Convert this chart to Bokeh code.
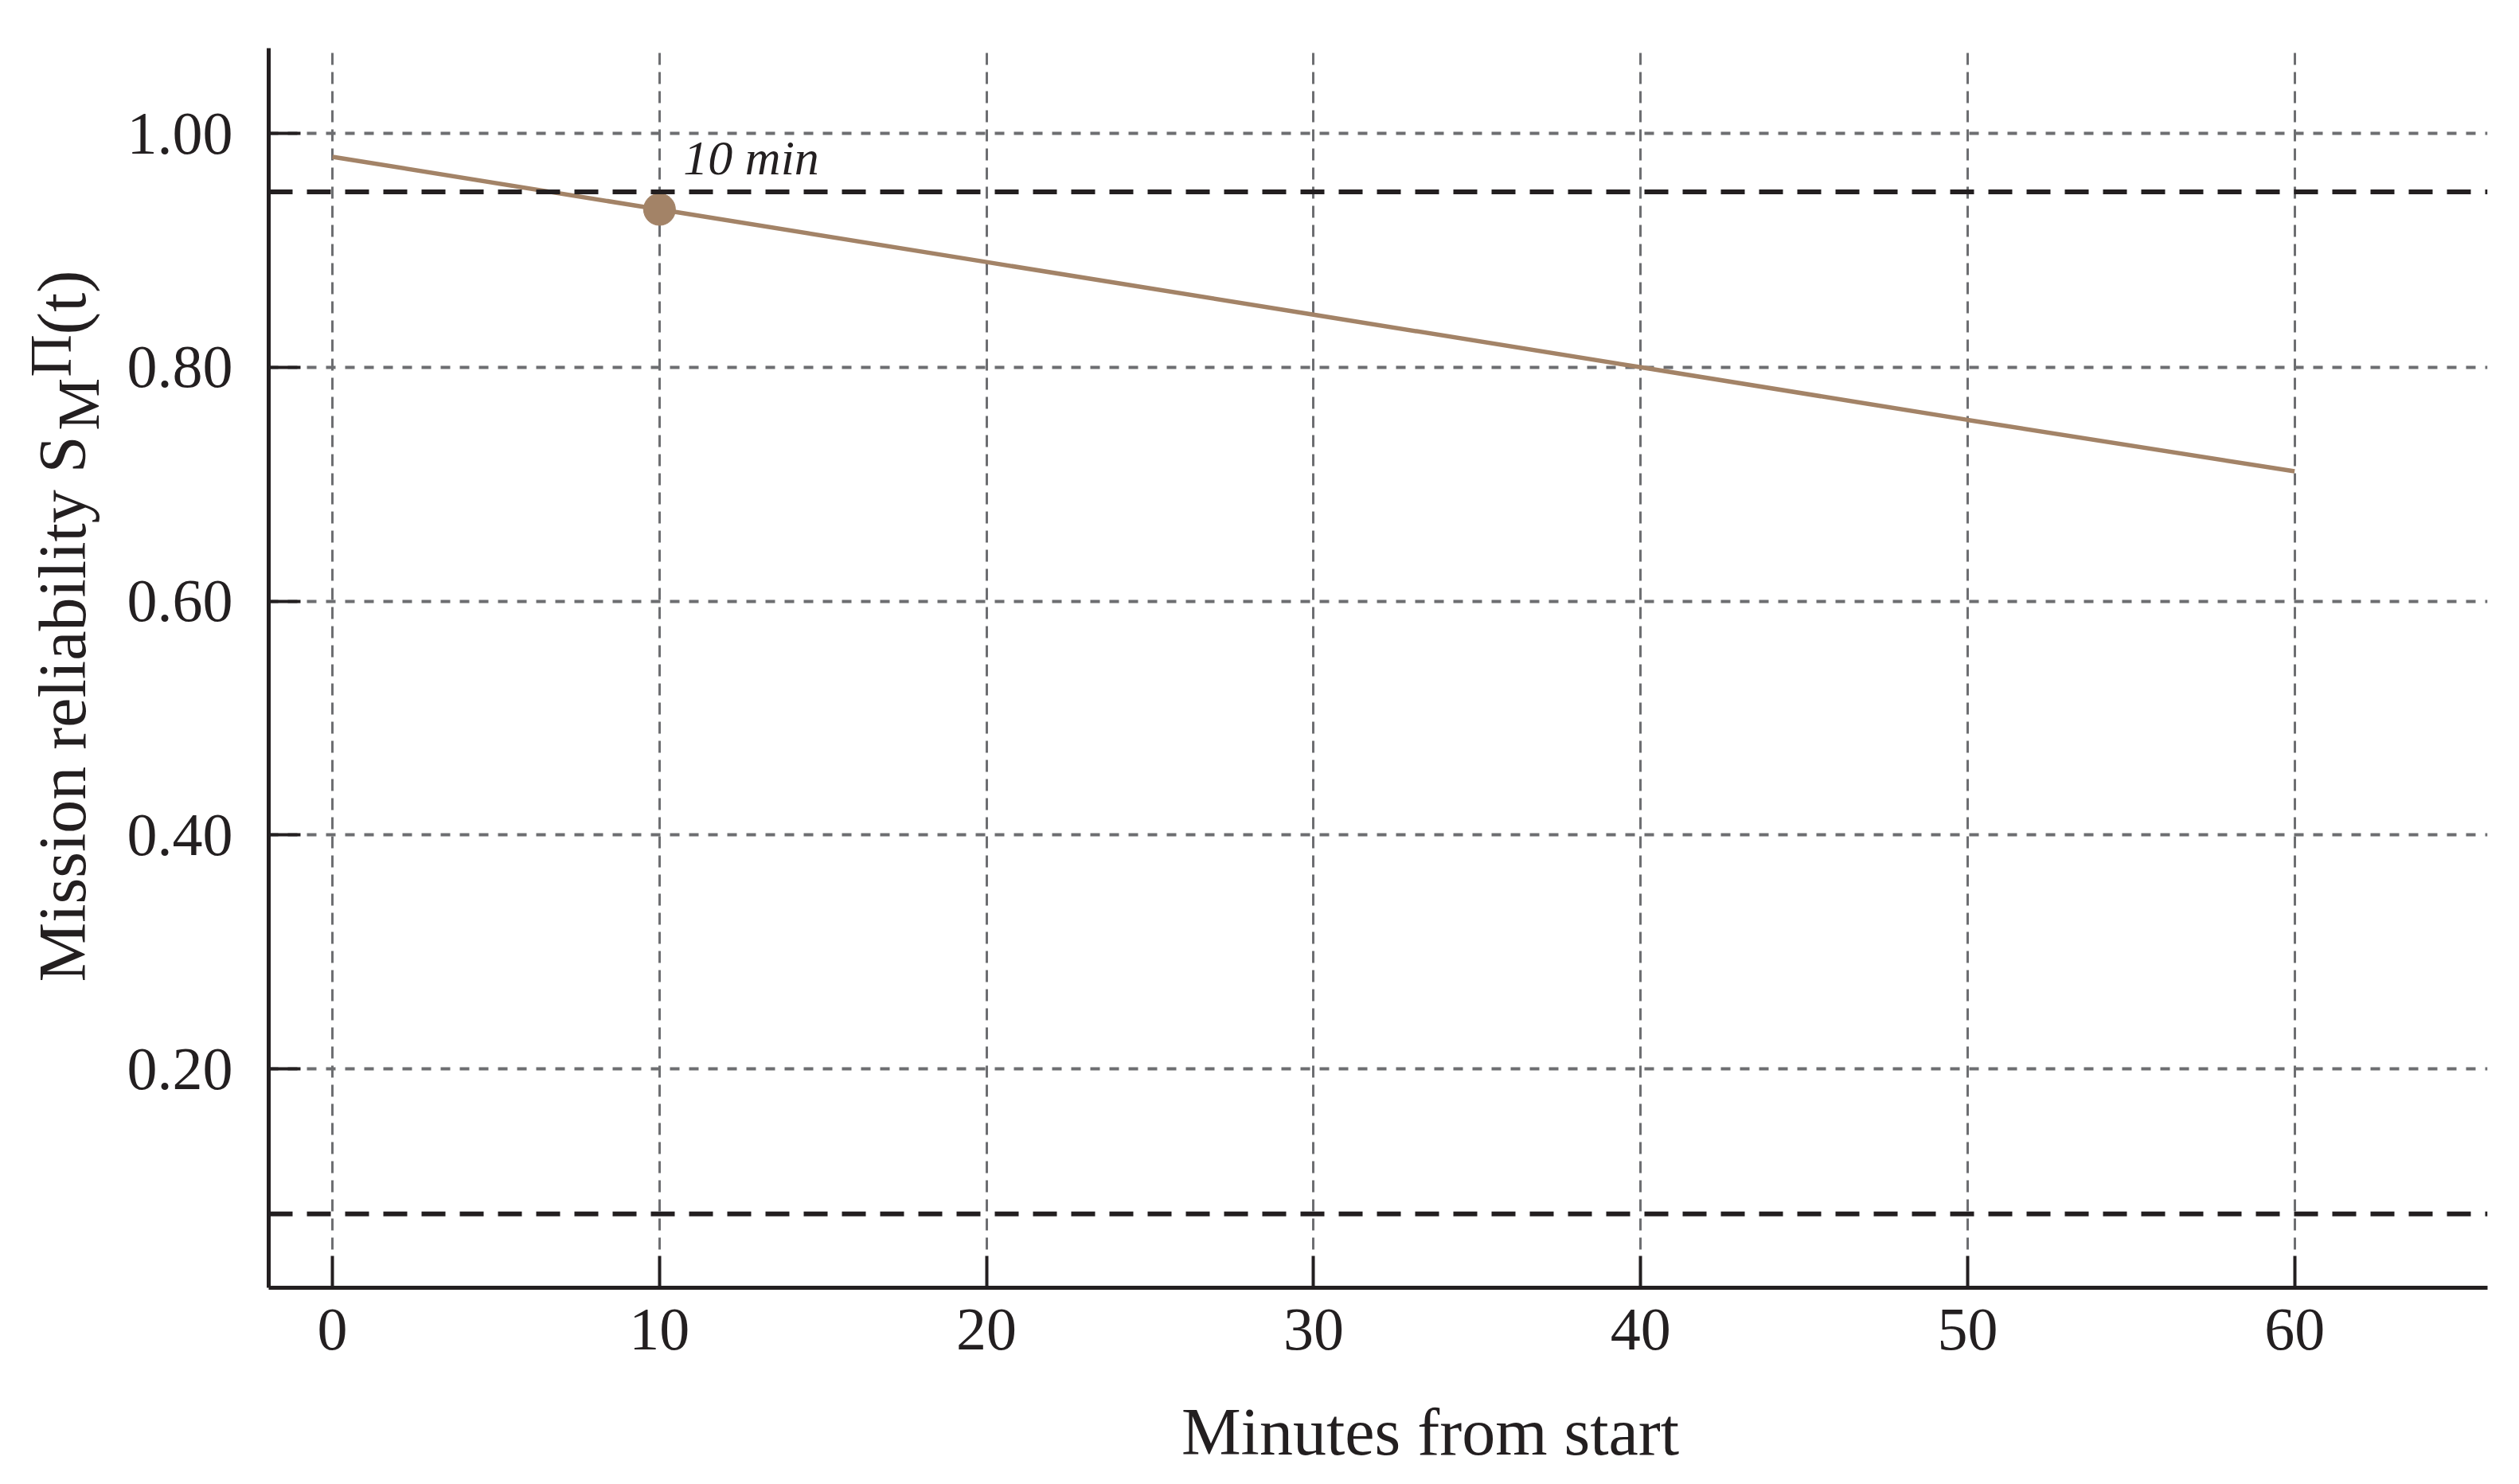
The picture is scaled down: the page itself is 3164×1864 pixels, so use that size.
from bokeh.plotting import figure
from bokeh.layouts import row, column
from bokeh.models import Range1d, FixedTicker, Span, Label
from bokeh.core.properties import value
from bokeh.embed import file_html
from bokeh.resources import INLINE

# ---- data ----
minutes = [0, 10, 20, 30, 40, 50, 60]
reliability = [0.980, 0.935, 0.890, 0.845, 0.800, 0.755, 0.711]
marked_minute = [10]
marked_reliability = [0.935]
upper_threshold = 0.95
lower_threshold = 0.076
x_ticks = [0, 10, 20, 30, 40, 50, 60]
x_tick_labels = ["0", "10", "20", "30", "40", "50", "60"]
y_ticks = [0.2, 0.4, 0.6, 0.8, 1.0]
y_tick_labels = ["0.20", "0.40", "0.60", "0.80", "1.00"]
x_label = "Minutes from start"
y_label_main = "Mission reliability S"
y_label_sub = "M"
y_label_sup = "\u03a0"
y_label_tail = "(t)"

FONT = "Liberation Serif"
INK = "#231f20"
GRID = "#6d6e71"
BROWN = "#a38367"
TOTAL_W, TOTAL_H = 3148, 1848
LABEL_W = 150
XL_H = 110

# ---- main chart ----
p = figure(width=TOTAL_W - LABEL_W, height=TOTAL_H - XL_H, output_backend="svg",
           toolbar_location=None, frame_align=False,
           x_range=Range1d(-1.95, 65.9), y_range=Range1d(0.0128, 1.0729),
           min_border_left=337 - LABEL_W, min_border_right=24, min_border_top=60,
           min_border_bottom=TOTAL_H - XL_H - 1617)
p.outline_line_color = None
p.background_fill_color = "white"
p.border_fill_color = "white"

p.xaxis.ticker = FixedTicker(ticks=x_ticks)
p.yaxis.ticker = FixedTicker(ticks=y_ticks)
p.xaxis.major_label_overrides = {t: s for t, s in zip(x_ticks, x_tick_labels)}
p.yaxis.major_label_overrides = {t: s for t, s in zip(y_ticks, y_tick_labels)}

for ax in (p.xaxis, p.yaxis):
    ax.axis_line_color = INK
    ax.axis_line_width = 5
    ax.major_tick_line_color = INK
    ax.major_tick_line_width = 4
    ax.major_tick_in = 40
    ax.major_tick_out = 0
    ax.minor_tick_line_color = None
    ax.major_label_text_font = FONT
    ax.major_label_text_font_size = "76px"
    ax.major_label_text_color = INK
p.yaxis.major_label_standoff = 45
p.xaxis.major_label_standoff = 27

p.xgrid.grid_line_color = GRID
p.xgrid.grid_line_dash = "15 9"
p.xgrid.grid_line_width = 3
p.ygrid.grid_line_color = GRID
p.ygrid.grid_line_dash = "12 12"
p.ygrid.grid_line_width = 4

for th in (upper_threshold, lower_threshold):
    p.add_layout(Span(location=th, dimension="width", line_color=INK,
                      line_width=6, line_dash="30 18"))

p.line(minutes, reliability, line_color=BROWN, line_width=5.5)
p.scatter(marked_minute, marked_reliability, size=40, fill_color=BROWN, line_color=BROWN)

p.add_layout(Label(x=marked_minute[0], y=marked_reliability[0], x_offset=30, y_offset=65,
                   text=f"{marked_minute[0]} min", text_font=FONT, text_font_style="italic",
                   text_font_size="62px", text_color=INK, text_baseline="alphabetic"))

# ---- y-axis title strip (sub- and superscript pieces) ----
lab = figure(width=LABEL_W, height=TOTAL_H, output_backend="svg", toolbar_location=None,
             frame_align=False,
             x_range=Range1d(0, LABEL_W), y_range=Range1d(0, TOTAL_H),
             x_axis_type=None, y_axis_type=None,
             min_border_left=0, min_border_right=0, min_border_top=0, min_border_bottom=0)
lab.outline_line_color = None
lab.grid.visible = False
ang = 1.5707963
pieces = [
    (y_label_main, 78, 615, "84px"),
    (y_label_sub, 98, 1308, "74px"),
    (y_label_sup, 63, 1375, "74px"),
    (y_label_tail, 77, 1428, "86px"),
]
for txt, bx, by, fs in pieces:
    lab.text(x=[bx], y=[by], text=[txt], angle=ang, text_align="left",
             text_baseline="middle", text_font=value(FONT), text_font_size=value(fs),
             text_color=INK)

# ---- x-axis title strip ----
xl = figure(width=TOTAL_W - LABEL_W, height=XL_H, output_backend="svg", toolbar_location=None,
            frame_align=False,
            x_range=Range1d(0, TOTAL_W - LABEL_W), y_range=Range1d(0, XL_H),
            x_axis_type=None, y_axis_type=None,
            min_border_left=0, min_border_right=0, min_border_top=0, min_border_bottom=0)
xl.outline_line_color = None
xl.grid.visible = False
xl.text(x=[1796 - LABEL_W], y=[50], text=[x_label], text_align="center",
        text_baseline="middle", text_font=value(FONT), text_font_size=value("84px"),
        text_color=INK)

layout = row(lab, column(p, xl, spacing=0), spacing=0)
open("out.html", "w").write(file_html(layout, INLINE))
